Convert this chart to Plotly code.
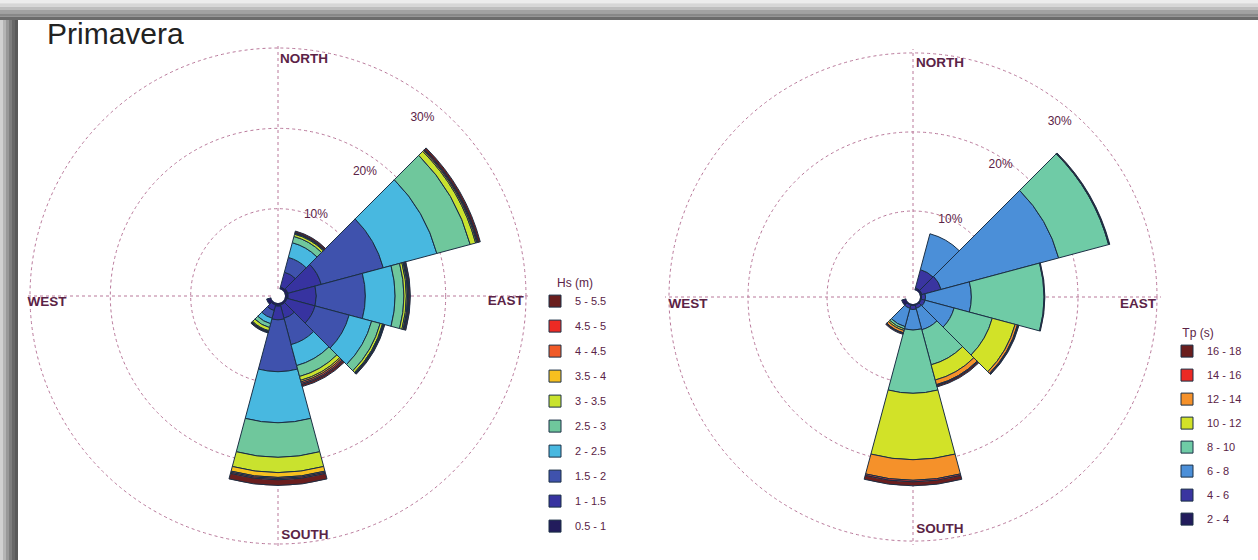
import plotly.graph_objects as go

# ---------------- data ----------------
directions = [0, 30, 60, 90, 120, 150, 180, 210, 240, 270, 300, 330]

hs_bins = ["0.5 - 1", "1 - 1.5", "1.5 - 2", "2 - 2.5", "2.5 - 3",
           "3 - 3.5", "3.5 - 4", "4 - 4.5", "4.5 - 5", "5 - 5.5"]
hs_colors = ["#221c5c", "#3733a0", "#3f52ad", "#48b8e0", "#6fc79c",
             "#c9e22e", "#f7c01f", "#f05a28", "#ec2a24", "#6a1e1e"]
hs_05_1 = [0, 0.3, 0.4, 0.4, 0.3, 0.3, 0.4, 0.3, 0.6, 0, 0, 0]
hs_1_15 = [0, 1.9, 4.3, 3.5, 3.6, 1.7, 1.7, 0.7, 0, 0, 0, 0]
hs_15_2 = [0, 1.9, 8.0, 6.1, 4.4, 3.4, 6.45, 1.0, 0, 0, 0, 0]
hs_2_25 = [0, 1.9, 6.9, 3.7, 2.9, 2.7, 6.35, 0.7, 0, 0, 0, 0]
hs_25_3 = [0, 0.8, 4.3, 1.1, 1.1, 1.4, 4.3, 0.5, 0, 0, 0, 0]
hs_3_35 = [0, 0.3, 0.7, 0.3, 0.3, 0.5, 1.9, 0.4, 0, 0, 0, 0]
hs_35_4 = [0, 0.1, 0.15, 0.15, 0.1, 0.2, 0.6, 0.1, 0, 0, 0, 0]
hs_4_45 = [0, 0.05, 0.1, 0.1, 0.05, 0.2, 0.15, 0.05, 0, 0, 0, 0]
hs_45_5 = [0, 0.05, 0.1, 0.1, 0.05, 0.15, 0.15, 0.05, 0, 0, 0, 0]
hs_5_55 = [0, 0.2, 0.25, 0.15, 0.1, 0.25, 0.7, 0.1, 0, 0, 0, 0]
hs_values = [hs_05_1, hs_1_15, hs_15_2, hs_2_25, hs_25_3,
             hs_3_35, hs_35_4, hs_4_45, hs_45_5, hs_5_55]

tp_bins = ["2 - 4", "4 - 6", "6 - 8", "8 - 10", "10 - 12",
           "12 - 14", "14 - 16", "16 - 18"]
tp_colors = ["#221c5c", "#3a35a0", "#4b8fd8", "#6fcba6", "#d2e228",
             "#f5912a", "#ec2a24", "#6a1e1e"]
tp_2_4 = [0, 0.3, 0.3, 0.2, 0.2, 0.2, 0.2, 0.2, 0.6, 0, 0, 0]
tp_4_6 = [0, 2.4, 2.5, 0.5, 0.5, 0.4, 0.5, 0.4, 0, 0, 0, 0]
tp_6_8 = [0, 4.7, 15.4, 5.8, 3.8, 2.8, 2.6, 2.4, 0, 0, 0, 0]
tp_8_10 = [0, 0, 6.55, 9.2, 5.0, 4.6, 8.0, 0.3, 0, 0, 0, 0]
tp_10_12 = [0, 0, 0.05, 0, 3.0, 2.0, 8.4, 0.2, 0, 0, 0, 0]
tp_12_14 = [0, 0, 0, 0, 0.3, 0.6, 2.6, 0.3, 0, 0, 0, 0]
tp_14_16 = [0, 0, 0, 0, 0.1, 0.1, 0.2, 0.05, 0, 0, 0, 0]
tp_16_18 = [0, 0, 0.1, 0.1, 0.1, 0.2, 0.5, 0.15, 0, 0, 0, 0]
tp_values = [tp_2_4, tp_4_6, tp_6_8, tp_8_10, tp_10_12,
             tp_12_14, tp_14_16, tp_16_18]

direction_labels = ["NORTH", "EAST", "SOUTH", "WEST"]
left_dir_r = [28.7, 27.5, 29.1, 27.9]
left_dir_theta = [6.3, 91.5, 173.6, 268.3]
right_dir_r = [28.9, 27.6, 28.8, 27.6]
right_dir_theta = [6.6, 92.0, 173.4, 268.0]

ring_labels = ["10%", "20%", "30%"]
left_ring_r = [10.3, 18.0, 27.7]
left_ring_theta = [25, 35, 39]
right_ring_r = [9.9, 19.2, 28.0]
right_ring_theta = [26, 33.5, 40]

# ---------------- figure ----------------
W, H = 1258, 560
LABEL_COLOR = "#5b2346"
GRID_COLOR = "#b9789a"
OUTLINE = "#1b2f45"
RMAX = 30.5
HOLE_PX = 7

fig = go.Figure()

for i, (name, col, vals) in enumerate(zip(hs_bins, hs_colors, hs_values)):
    fig.add_trace(go.Barpolar(
        r=vals, theta=directions, width=[30] * len(directions), name=name,
        marker=dict(color=col, line=dict(color=OUTLINE, width=1)),
        subplot="polar", legend="legend", legendgroup="hs" + name,
        legendrank=1000 - i))

for i, (name, col, vals) in enumerate(zip(tp_bins, tp_colors, tp_values)):
    fig.add_trace(go.Barpolar(
        r=vals, theta=directions, width=[30] * len(directions), name=name,
        marker=dict(color=col, line=dict(color=OUTLINE, width=1)),
        subplot="polar2", legend="legend2", legendgroup="tp" + name,
        legendrank=1000 - i))

for sp, rr, tt in [("polar", left_dir_r, left_dir_theta), ("polar2", right_dir_r, right_dir_theta)]:
    fig.add_trace(go.Scatterpolar(
        r=rr, theta=tt, text=direction_labels, mode="text", subplot=sp,
        textfont=dict(family="Liberation Sans", size=13.5, color=LABEL_COLOR, weight="bold"),
        showlegend=False, hoverinfo="skip", cliponaxis=False))

for sp, rr, tt in [("polar", left_ring_r, left_ring_theta), ("polar2", right_ring_r, right_ring_theta)]:
    fig.add_trace(go.Scatterpolar(
        r=rr, theta=tt, text=ring_labels, mode="text", subplot=sp,
        textfont=dict(family="Liberation Sans", size=12, color=LABEL_COLOR),
        showlegend=False, hoverinfo="skip", cliponaxis=False))


def polar_layout(cx, cy, r30):
    R = HOLE_PX + (r30 - HOLE_PX) * RMAX / 30.0
    return dict(
        domain=dict(x=[(cx - R) / W, (cx + R) / W],
                    y=[1 - (cy + R) / H, 1 - (cy - R) / H]),
        hole=HOLE_PX / R,
        bgcolor="rgba(0,0,0,0)",
        barmode="stack",
        radialaxis=dict(range=[0, RMAX], tickvals=[10, 20, 30], showticklabels=False,
                        ticks="", showline=False, gridcolor=GRID_COLOR, griddash="dot",
                        gridwidth=1),
        angularaxis=dict(direction="clockwise", rotation=90, tickvals=[0, 90, 180, 270],
                         showticklabels=False, ticks="", showline=False,
                         gridcolor=GRID_COLOR, griddash="dot", gridwidth=1),
    )


shapes = []
# gray frame (top and left bands)
top_cols = ["#ececec", "#d6d6d6", "#bdbdbd", "#a2a2a2", "#888888", "#6c6c6c"]
for i, c in enumerate(top_cols):
    y0 = i * 20 / len(top_cols)
    y1 = (i + 1) * 20 / len(top_cols)
    shapes.append(dict(type="rect", xref="paper", yref="paper", x0=0, x1=1,
                       y0=1 - y1 / H, y1=1 - y0 / H, fillcolor=c, line_width=0, layer="below"))
left_cols = ["#d0d0d0", "#b4b4b4", "#989898", "#7e7e7e", "#686868", "#5a5a5a"]
for i, c in enumerate(left_cols):
    x0 = i * 18 / len(left_cols)
    x1 = (i + 1) * 18 / len(left_cols)
    shapes.append(dict(type="rect", xref="paper", yref="paper", x0=x0 / W, x1=x1 / W,
                       y0=0, y1=1 - 20 / H, fillcolor=c, line_width=0, layer="below"))

nb = "\u00a0"
fig.update_layout(
    width=W, height=H,
    margin=dict(l=0, r=0, t=0, b=0),
    paper_bgcolor="white", plot_bgcolor="white",
    polar=polar_layout(278, 296, 248),
    polar2=polar_layout(913, 297, 244),
    shapes=shapes,
    annotations=[dict(text="Primavera", xref="paper", yref="paper", x=45 / W, y=1 - 33 / H,
                      xanchor="left", yanchor="middle", showarrow=False,
                      font=dict(family="Liberation Sans", size=30, color="#222222"))],
    legend=dict(x=535 / W, y=1 - 271 / H, xanchor="left", yanchor="top",
                traceorder="grouped", tracegroupgap=6,
                title=dict(text=nb * 6 + "Hs (m)",
                           font=dict(family="Liberation Sans", size=12, color=LABEL_COLOR)),
                font=dict(family="Liberation Sans", size=11, color=LABEL_COLOR),
                bgcolor="rgba(0,0,0,0)"),
    legend2=dict(x=1167 / W, y=1 - 321 / H, xanchor="left", yanchor="top",
                 traceorder="grouped", tracegroupgap=5,
                 title=dict(text=nb * 4 + "Tp (s)",
                            font=dict(family="Liberation Sans", size=12, color=LABEL_COLOR)),
                 font=dict(family="Liberation Sans", size=11, color=LABEL_COLOR),
                 bgcolor="rgba(0,0,0,0)"),
    showlegend=True,
)

fig.write_html("out.html", config={"displayModeBar": False},
               post_script="document.body.style.margin='0px';")
